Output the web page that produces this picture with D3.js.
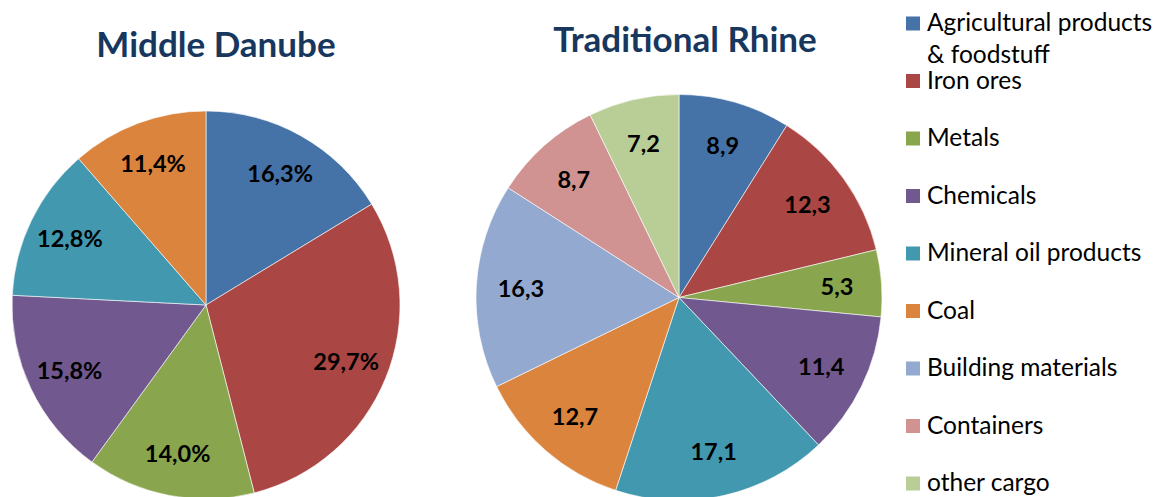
<!DOCTYPE html>
<html>
<head>
<meta charset="utf-8">
<script src="https://cdnjs.cloudflare.com/ajax/libs/d3/7.8.5/d3.min.js"></script>
<style>
  body { margin: 0; background: #fff; }
  svg { display: block; font-family: Lato, "Open Sans", sans-serif; }
  .title { font-weight: bold; fill: #17375E; }
  .lbl { font-weight: bold; fill: #000; }
  .legend text { fill: #000; }
</style>
</head>
<body>
<div id="chart"><svg></svg></div>
<script>
const size = { width: 1162, height: 497 };

// legend categories, in slice order
const categories = [
    "Agricultural products & foodstuff",
    "Iron ores",
    "Metals",
    "Chemicals",
    "Mineral oil products",
    "Coal",
    "Building materials",
    "Containers",
    "other cargo"
];
const colors = ["#4572A7", "#AA4643", "#89A54E", "#71588F", "#4198AF",
                "#DB843D", "#93A9CF", "#D19392", "#B9CD96"];

const danubeValues = [16.3, 29.7, 14.0, 15.8, 12.8, 11.4];
const danubeLabels = ["16,3%", "29,7%", "14,0%", "15,8%", "12,8%", "11,4%"];

const rhineValues = [8.9, 12.3, 5.3, 11.4, 17.1, 12.7, 16.3, 8.7, 7.2];
const rhineLabels = ["8,9", "12,3", "5,3", "11,4", "17,1", "12,7", "16,3", "8,7", "7,2"];

const charts = [
    { title: "Middle Danube", values: danubeValues, labels: danubeLabels,
      cx: 206, cy: 305, r: 194, titleX: 216, titleY: 57 },
    { title: "Traditional Rhine", values: rhineValues, labels: rhineLabels,
      cx: 679, cy: 297.5, r: 203, titleX: 685, titleY: 52 }
];

const svg = d3.select("#chart svg")
    .attr("width", size.width)
    .attr("height", size.height);

const pie = d3.pie().sort(null).value(d => d.v);

charts.forEach(c => {
    const data = c.values.map((v, i) => ({ v, label: c.labels[i], color: colors[i] }));
    const arc = d3.arc().innerRadius(0).outerRadius(c.r);
    const labelArc = d3.arc().innerRadius(c.r * 0.78).outerRadius(c.r * 0.78);

    const g = svg.append("g")
        .attr("transform", `translate(${c.cx},${c.cy})`);

    g.selectAll("path")
        .data(pie(data))
        .enter().append("path")
        .attr("d", arc)
        .attr("fill", d => d.data.color)
        .attr("stroke", "#fff")
        .attr("stroke-width", 0.6);

    g.selectAll("text")
        .data(pie(data))
        .enter().append("text")
        .attr("class", "lbl")
        .attr("transform", d => `translate(${labelArc.centroid(d)})`)
        .attr("text-anchor", "middle")
        .attr("dy", "0.36em")
        .style("font-size", "23.5px")
        .text(d => d.data.label);

    svg.append("text")
        .attr("class", "title")
        .attr("x", c.titleX)
        .attr("y", c.titleY)
        .attr("text-anchor", "middle")
        .style("font-size", "35px")
        .text(c.title);
});

// legend
const legendY = d3.scalePoint()
    .domain(categories)
    .range([31, 491]);

const lg = svg.append("g").attr("class", "legend");
const item = lg.selectAll("g")
    .data(categories)
    .enter().append("g")
    .attr("transform", d => `translate(906,${legendY(d)})`);

item.append("rect")
    .attr("y", -14.5)
    .attr("width", 14)
    .attr("height", 14)
    .attr("fill", (d, i) => colors[i]);

item.append("text")
    .attr("x", 21)
    .style("font-size", "24.5px")
    .each(function (d) {
        const parts = d.split(" & ");
        const t = d3.select(this);
        t.append("tspan").attr("x", 21).text(parts[0]);
        if (parts[1]) {
            t.append("tspan").attr("x", 21).attr("dy", 32).text("& " + parts[1]);
        }
    });
</script>
</body>
</html>
